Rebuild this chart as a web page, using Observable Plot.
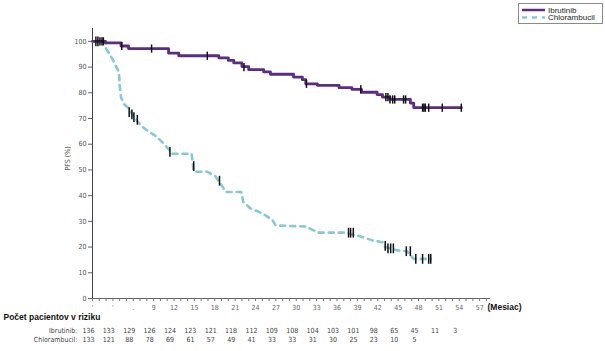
<!DOCTYPE html>
<html><head><meta charset="utf-8">
<script src="https://cdn.jsdelivr.net/npm/d3@7"></script>
<script src="https://cdn.jsdelivr.net/npm/@observablehq/plot@0.6"></script>
<style>
body{margin:0;background:#fff;font-family:"Liberation Sans",Arial,sans-serif}
#wrap{position:relative;width:605px;height:351px;overflow:hidden}
#legend{position:absolute;left:518px;top:3px;width:83px;height:19px;border:1px solid #8a8a8a;background:#fff}
</style></head><body>
<div id="wrap"><div id="legend"></div></div>
<script>
// ---- data ----
const seriesNames = ["Ibrutinib", "Chlorambucil"];
const ibrMonths = [0, 1.9, 4.2, 5.3, 11.2, 12.7, 18.6, 20.0, 20.8, 22.0, 23.0, 25.2, 26.2, 29.6, 30.9, 31.4, 33.1, 36.3, 38.2, 39.6, 41.9, 42.7, 43.8, 46.8, 47.3, 54.3];
const ibrPfs    = [100, 99.4, 98.2, 97.2, 95.4, 94.4, 93.6, 92.6, 91.6, 90.2, 89.0, 88.1, 87.2, 86.1, 85.1, 83.5, 82.9, 82.0, 81.3, 80.2, 79.3, 78.3, 77.4, 76.0, 74.2, 74.2];
const chlMonths = [0, 1.9, 2.0, 2.9, 3.9, 4.0, 4.2, 4.6, 5.3, 6.0, 7.1, 8.0, 9.5, 10.5, 11.5, 11.7, 14.6, 14.9, 16.9, 18.1, 19.2, 19.6, 21.9, 22.2, 23.3, 24.5, 25.5, 26.5, 27.0, 31.4, 32.4, 33.3, 37.0, 39.0, 40.2, 41.2, 42.7, 43.1, 44.9, 46.3, 47.3, 49.8];
const chlPfs    = [100, 100, 97.2, 93.3, 88.0, 82.9, 78.3, 75.7, 74.0, 71.0, 67.3, 65.4, 62.8, 60.2, 57.2, 56.3, 56.3, 49.3, 49.3, 47.5, 43.3, 41.4, 41.4, 37.5, 35.0, 33.7, 32.3, 30.4, 28.4, 28.0, 26.7, 25.6, 25.6, 24.5, 23.5, 22.6, 21.9, 20.0, 18.7, 18.4, 15.4, 15.4];
const ibrCensorMonths = [1.1, 1.4, 1.6, 4.3, 8.7, 16.9, 22.3, 31.5, 39.5, 43.2, 43.5, 43.8, 44.2, 44.5, 45.8, 46.1, 48.6, 48.8, 49.0, 49.5, 51.5, 54.3];
const ibrCensorPfs    = [100, 100, 100, 98.2, 97.2, 94.4, 90.0, 83.5, 81.3, 78.3, 78.3, 77.4, 77.4, 77.4, 77.4, 77.4, 74.2, 74.2, 74.2, 74.2, 74.2, 74.2];
const chlCensorMonths = [0.5, 0.8, 5.4, 5.8, 6.1, 6.6, 11.4, 14.9, 18.7, 37.7, 38.0, 38.4, 43.1, 43.5, 43.9, 44.3, 46.2, 46.8, 47.6, 48.6, 49.5, 49.8];
const chlCensorPfs    = [100, 100, 72.5, 71.6, 70.5, 69.5, 57.0, 51.5, 45.8, 25.6, 25.6, 25.6, 20.5, 19.5, 19.5, 19.5, 18.4, 18.4, 15.4, 15.4, 15.4, 15.4];
const xTickValues = [0, 3, 6, 9, 12, 15, 18, 21, 24, 27, 30, 33, 36, 39, 42, 45, 48, 51, 54, 57];
const xTickLabels = ["'", "'", ".", "9", "12", "15", "18", "21", "24", "27", "30", "33", "36", "39", "42", "45", "48", "51", "54", "57"];
const yTickValues = [0, 10, 20, 30, 40, 50, 60, 70, 80, 90, 100];
const riskMonths = [0, 3, 6, 9, 12, 15, 18, 21, 24, 27, 30, 33, 36, 39, 42, 45, 48, 51, 54];
const ibrRisk = [136, 133, 129, 126, 124, 123, 121, 118, 112, 109, 108, 104, 103, 101, 98, 65, 45, 11, 3];
const chlRisk = [133, 121, 88, 78, 69, 61, 57, 49, 41, 33, 33, 31, 30, 25, 23, 10, 5];
const riskTitle = "Počet pacientov v riziku";
const xUnit = "(Mesiac)";
const yLabel = "PFS (%)";

// ---- tables ----
const ibr = ibrMonths.map((m, i) => ({x: m, y: ibrPfs[i]}));
const chl = chlMonths.map((m, i) => ({x: m, y: chlPfs[i]}));
const ibrC = ibrCensorMonths.map((m, i) => ({x: m, y: ibrCensorPfs[i]}));
const chlC = chlCensorMonths.map((m, i) => ({x: m, y: chlCensorPfs[i]}));
const ibrR = ibrRisk.map((v, i) => ({x: riskMonths[i], v}));
const chlR = chlRisk.map((v, i) => ({x: riskMonths[i], v}));

const PURPLE = "#5b2c83", BLUE = "#86c8d6";
const NARROW = "'Liberation Sans Narrow','DejaVu Sans Condensed','Liberation Sans',Arial,sans-serif";

const chart = Plot.plot({
  width: 605, height: 351,
  marginLeft: 92, marginRight: 115, marginTop: 28, marginBottom: 53,
  style: {fontFamily: NARROW, fontSize: "7px", color: "#555", background: "#fff", overflow: "visible"},
  x: {domain: [0, 58.6]},
  y: {domain: [0, 105]},
  marks: [
    Plot.ruleY([0], {stroke: "#666", strokeWidth: 1}),
    Plot.ruleX([0], {stroke: "#444", strokeWidth: 1}),
    Plot.axisY({ticks: yTickValues, tickSize: 4, tickPadding: 2, label: null, stroke: "#666", fill: "#555"}),
    Plot.axisX({ticks: d3.range(0, 59, 1), tickSize: 3, tickPadding: 4, label: null, stroke: "#777", fill: "#666",
      tickFormat: d => { const i = xTickValues.indexOf(d); return i >= 0 ? xTickLabels[i] : ""; }}),
    Plot.text([yLabel], {frameAnchor: "left", dx: -25, dy: 7, rotate: -90, fill: "#555", fontSize: 7}),
    Plot.line(chl, {x: "x", y: "y", stroke: BLUE, strokeWidth: 2.6, strokeDasharray: "5,5"}),
    Plot.line(ibr, {x: "x", y: "y", curve: "step-after", stroke: PURPLE, strokeWidth: 2.8}),
    Plot.link(ibrC, {x1: "x", x2: "x", y1: d => d.y - 1.6, y2: d => d.y + 1.6, stroke: "#111", strokeWidth: 1.5}),
    Plot.link(chlC, {x1: "x", x2: "x", y1: d => d.y - 1.9, y2: d => d.y + 1.9, stroke: "#111", strokeWidth: 1.5}),
    Plot.text([xUnit], {frameAnchor: "bottom-right", dx: -3, dy: 11, textAnchor: "start", fontWeight: "bold", fontSize: 8.5, fill: "#111", fontFamily: "'Liberation Sans',Arial,sans-serif"}),
    Plot.text([riskTitle], {frameAnchor: "bottom-left", dx: -89, dy: 21, textAnchor: "start", fontWeight: "bold", fontSize: 8.5, fill: "#111", fontFamily: "'Liberation Sans',Arial,sans-serif"}),
    Plot.text([seriesNames[0] + ":"], {frameAnchor: "bottom-left", dx: -15, dy: 34, textAnchor: "end", fill: "#444"}),
    Plot.text([seriesNames[1] + ":"], {frameAnchor: "bottom-left", dx: -15, dy: 43, textAnchor: "end", fill: "#444"}),
    Plot.text(ibrR, {x: "x", text: "v", frameAnchor: "bottom", dx: -4, dy: 34, fill: "#444"}),
    Plot.text(chlR, {x: "x", text: "v", frameAnchor: "bottom", dx: -4, dy: 43, fill: "#444"})
  ]
});
document.getElementById("wrap").prepend(chart);

// ---- legend ----
const lg = d3.select("#legend").append("svg").attr("width", 83).attr("height", 19)
  .style("font-family", "'Liberation Sans',Arial,sans-serif").style("font-size", "8px");
[PURPLE, BLUE].forEach((c, i) => {
  const yy = 6 + i * 7.5;
  lg.append("line").attr("x1", 3).attr("x2", 26).attr("y1", yy).attr("y2", yy)
    .attr("stroke", c).attr("stroke-width", 2.5).attr("stroke-dasharray", i ? "5,5" : null);
  lg.append("text").attr("x", 29).attr("y", yy).attr("dy", "0.35em").attr("fill", "#222").text(seriesNames[i]);
});
</script>
</body></html>
